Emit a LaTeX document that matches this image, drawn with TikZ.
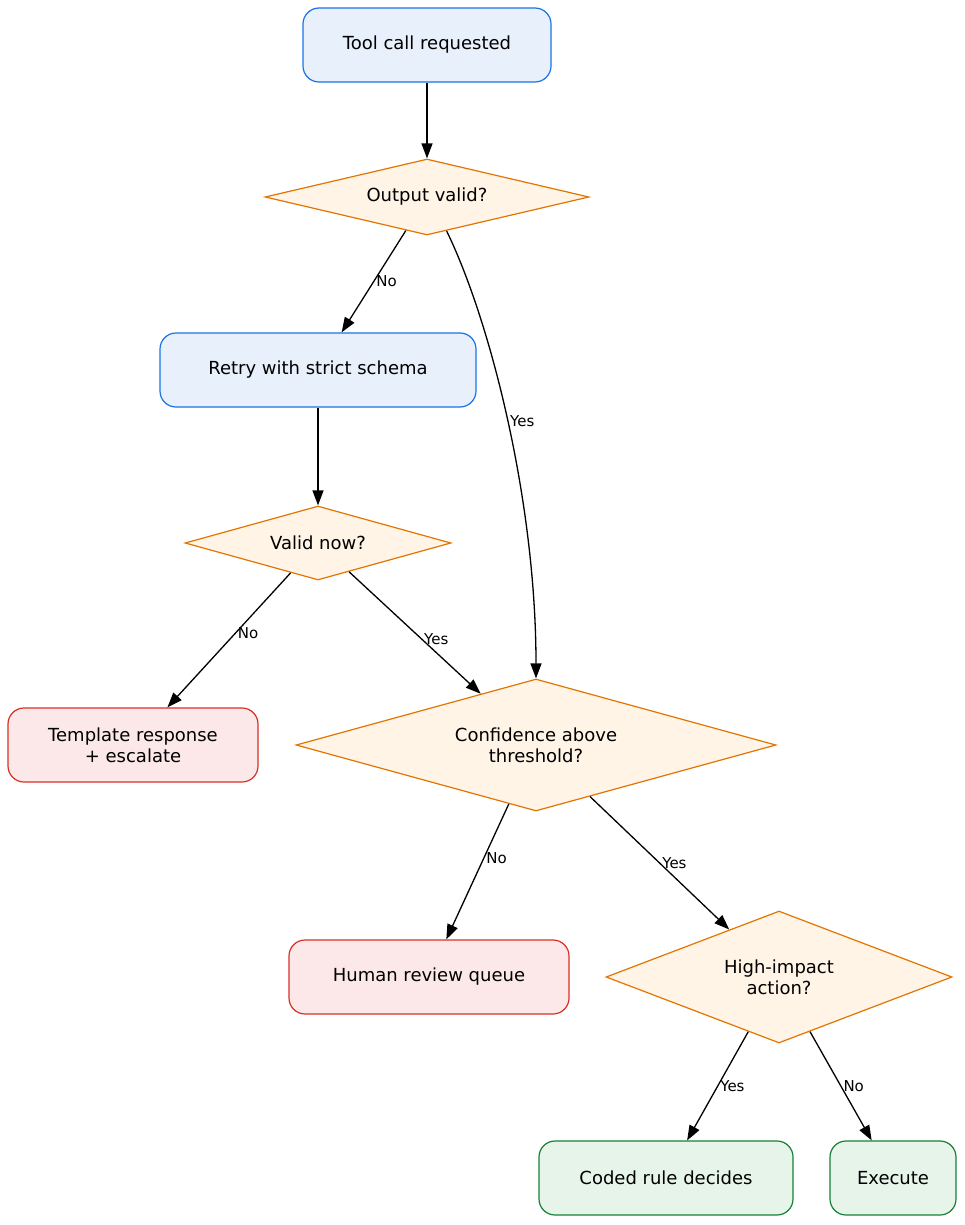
\documentclass[tikz,border=0pt]{standalone}
\usepackage{fontspec}
\setmainfont{DejaVu Sans}
\usetikzlibrary{shapes.geometric,arrows.meta}
\definecolor{stepfill}{HTML}{E8F0FC}
\definecolor{stepline}{HTML}{1A73E8}
\definecolor{askfill}{HTML}{FFF4E5}
\definecolor{askline}{HTML}{E37400}
\definecolor{badfill}{HTML}{FCE8E8}
\definecolor{badline}{HTML}{D93025}
\definecolor{okfill}{HTML}{E6F4EA}
\definecolor{okline}{HTML}{188038}
\tikzset{
  box/.style = {draw, rounded corners=16pt, line width=1.2pt, minimum height=74pt,
    align=center, font=\fontsize{18}{21}\selectfont, inner sep=0pt},
  action/.style = {box, fill=stepfill, draw=stepline},
  bad/.style = {box, fill=badfill, draw=badline},
  ok/.style = {box, fill=okfill, draw=okline},
  ask/.style = {draw=askline, fill=askfill, line width=1.2pt, diamond, inner sep=0pt,
    align=center, font=\fontsize{18}{21}\selectfont},
  flow/.style = {line width=1.3pt, -{Triangle[length=15pt,width=11pt]}},
  lbl/.style = {font=\fontsize{15}{17}\selectfont, inner sep=2pt}
}
\begin{document}
\begin{tikzpicture}[x=1pt, y=-1pt]
        \useasboundingbox (0,0) rectangle (965,1225);
        \node[action, minimum width=248pt] (call) at (427,45) {Tool call requested};
        \node[ask, minimum width=324pt, minimum height=76pt, aspect=4.26] (valid) at (427,197) {Output valid?};
        \node[action, minimum width=316pt] (retry) at (318,370) {Retry with strict schema};
        \node[ask, minimum width=266pt, minimum height=74pt, aspect=3.6] (again) at (318,543) {Valid now?};
        \node[bad, minimum width=250pt] (tmpl) at (133,745) {Template response\\+ escalate};
        \node[ask, minimum width=480pt, minimum height=132pt, aspect=3.64] (conf) at (536,745) {Confidence above\\threshold?};
        \node[bad, minimum width=280pt] (human) at (429,977) {Human review queue};
        \node[ask, minimum width=346pt, minimum height=132pt, aspect=2.62] (impact) at (779,977) {High-impact\\action?};
        \node[ok, minimum width=254pt] (rule) at (666,1178) {Coded rule decides};
        \node[ok, minimum width=126pt] (exec) at (893,1178) {Execute};
        \draw[flow] (call) -- (valid);
        \draw[flow] (valid) -- node[lbl, right, pos=0.5] (l1) {No} (retry);
        \draw[flow] (valid.-60) .. controls (490,320) and (536,500) .. (conf.north)
            node[lbl, pos=0.5, right] (l2) {Yes};
        \draw[flow] (retry) -- (again);
        \draw[flow] (again) -- node[lbl, right, pos=0.45] (l3) {No} (tmpl);
        \draw[flow] (again) -- node[lbl, right, pos=0.55] (l4) {Yes} (conf);
        \draw[flow] (conf) -- node[lbl, right, pos=0.4] (l5) {No} (human);
        \draw[flow] (conf) -- node[lbl, right, pos=0.5] (l6) {Yes} (impact);
        \draw[flow] (impact) -- node[lbl, right, pos=0.5] (l7) {Yes} (rule);
        \draw[flow] (impact) -- node[lbl, right, pos=0.5] (l8) {No} (exec);
\end{tikzpicture}
\end{document}
